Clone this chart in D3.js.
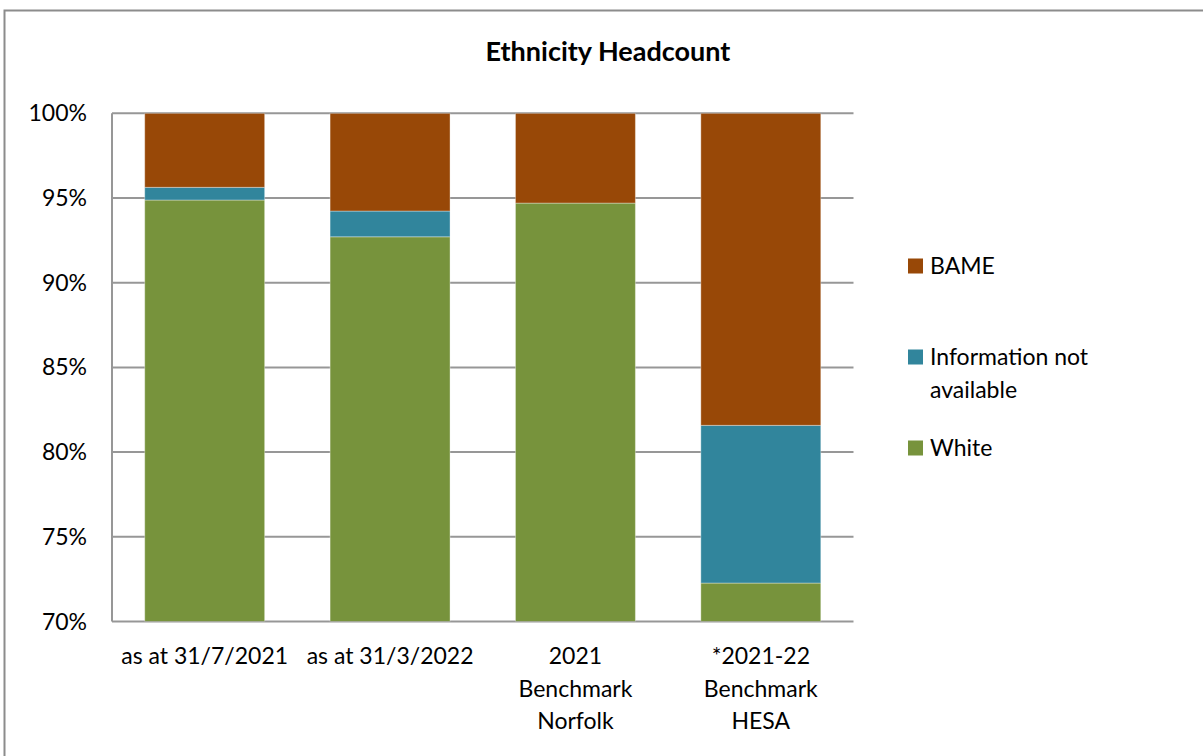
<!DOCTYPE html>
<html>
<head>
<meta charset="utf-8">
<script src="https://cdn.jsdelivr.net/npm/d3@7"></script>
<style>
  html, body { margin: 0; padding: 0; background: #fff; }
  svg { display: block; font-family: Lato, "Open Sans", sans-serif; }
</style>
</head>
<body>
<svg id="chart" width="1203" height="756"></svg>
<script>
// Categories shown along the x axis (multi-line labels split on "\n")
const categories = [
  "as at 31/7/2021",
  "as at 31/3/2022",
  "2021\nBenchmark\nNorfolk",
  "*2021-22\nBenchmark\nHESA"
];
// Share of headcount per category, in percent
const white   = [94.88, 92.71, 94.70, 72.27];
const infoNA  = [0.75, 1.52, 0.00, 9.31];
const bame    = [4.37, 5.77, 5.30, 18.42];
const seriesNames = ["White", "Information not available", "BAME"];
const seriesColors = ["#77933C", "#31859C", "#984807"];
const yTicks = [70, 75, 80, 85, 90, 95, 100];

const svg = d3.select("#chart");
const plotLeft = 112, plotRight = 853.5;
const labelSize = 23;

// outer chart frame
svg.append("rect")
  .attr("x", 4.5).attr("y", 10.5)
  .attr("width", 1210).attr("height", 760)
  .attr("fill", "none").attr("stroke", "#8c8c8c").attr("stroke-width", 2);

svg.append("text")
  .attr("x", 608).attr("y", 61)
  .attr("text-anchor", "middle")
  .attr("font-size", 27).attr("font-weight", "bold")
  .attr("fill", "#000")
  .text("Ethnicity Headcount");

const x = d3.scaleBand()
  .domain(categories)
  .range([plotLeft, plotRight])
  .paddingInner(0.353)
  .paddingOuter(0.1765);

const y = d3.scaleLinear()
  .domain([70, 100])
  .range([621.5, 113.3]);

// horizontal gridlines
svg.append("g")
  .selectAll("line")
  .data(yTicks)
  .join("line")
  .attr("x1", plotLeft).attr("x2", plotRight)
  .attr("y1", d => y(d)).attr("y2", d => y(d))
  .attr("stroke", "#979797").attr("stroke-width", 2);

// stacked data
const rows = categories.map((c, i) => ({
  cat: c, White: white[i], "Information not available": infoNA[i], BAME: bame[i]
}));
const stacked = d3.stack().keys(seriesNames)(rows);

svg.append("clipPath").attr("id", "plotclip")
  .append("rect")
  .attr("x", plotLeft).attr("y", y(100))
  .attr("width", plotRight - plotLeft).attr("height", y(70) - y(100));

const gBars = svg.append("g").attr("clip-path", "url(#plotclip)");
stacked.forEach((layer, si) => {
  gBars.append("g")
    .attr("fill", seriesColors[si])
    .selectAll("rect")
    .data(layer.filter(d => d[1] - d[0] > 0))
    .join("rect")
    .attr("x", d => x(d.data.cat))
    .attr("width", x.bandwidth())
    .attr("y", d => y(Math.min(100, d[1])))
    .attr("height", d => y(Math.max(70, d[0])) - y(Math.min(100, d[1])))
    .attr("stroke", "rgba(255,255,255,0.35)")
    .attr("stroke-width", 1);
});

// left axis line
svg.append("line")
  .attr("x1", plotLeft).attr("x2", plotLeft)
  .attr("y1", y(100)).attr("y2", y(70))
  .attr("stroke", "#979797").attr("stroke-width", 2);

// y tick labels
svg.append("g")
  .selectAll("text")
  .data(yTicks)
  .join("text")
  .attr("x", 87).attr("y", d => y(d) + 8)
  .attr("text-anchor", "end")
  .attr("font-size", labelSize).attr("fill", "#000")
  .text(d => d + "%");

// category labels
const xl = svg.append("g");
categories.forEach(c => {
  const lines = c.split("\n");
  const t = xl.append("text")
    .attr("text-anchor", "middle")
    .attr("font-size", labelSize).attr("fill", "#000");
  lines.forEach((ln, i) => {
    t.append("tspan")
      .attr("x", x(c) + x.bandwidth() / 2)
      .attr("y", 664 + i * 32.5)
      .text(ln);
  });
});

// legend (BAME on top)
const legendItems = [
  { name: ["BAME"], color: seriesColors[2], cy: 266 },
  { name: ["Information not", "available"], color: seriesColors[1], cy: 357 },
  { name: ["White"], color: seriesColors[0], cy: 448 }
];
const lg = svg.append("g");
legendItems.forEach(it => {
  lg.append("rect")
    .attr("x", 908).attr("y", it.cy - 7.5)
    .attr("width", 15).attr("height", 15)
    .attr("fill", it.color);
  const t = lg.append("text").attr("font-size", labelSize).attr("fill", "#000");
  it.name.forEach((ln, i) => {
    t.append("tspan").attr("x", 930).attr("y", it.cy + 8 + i * 32.5).text(ln);
  });
});
</script>
</body>
</html>
